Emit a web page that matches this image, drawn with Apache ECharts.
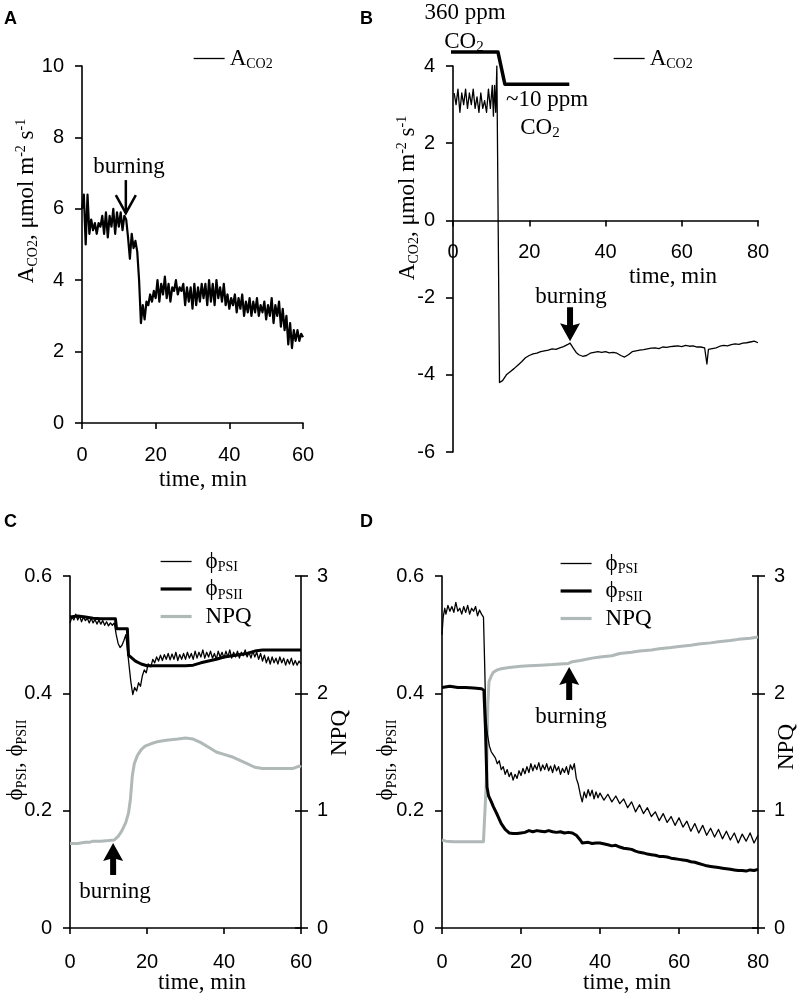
<!DOCTYPE html>
<html>
<head>
<meta charset="utf-8">
<script src="https://cdn.jsdelivr.net/npm/echarts@6/dist/echarts.min.js"></script>
<style>
html, body { margin: 0; padding: 0; background: #fff; }
#main { width: 800px; height: 998px; }
</style>
</head>
<body>
<div id="main"></div>
<script>
// panel A: A_CO2 trace, [time min, umol m-2 s-1]
var aTrace = [[0,6.0],[0.5,6.4],[1,5.0],[1.5,6.4],[2,5.3],[2.5,5.7],[3,5.4],[3.5,5.6],[4,5.3],[4.5,5.6],[5,5.5],[5.5,5.8],[6,5.3],[6.5,5.9],[7,5.2],[7.5,5.8],[8,5.5],[8.5,6.0],[9,5.3],[9.5,5.9],[10,5.5],[10.5,5.9],[11,5.4],[11.5,5.8],[12,5.7],[12.5,5.2],[13,4.6],[13.5,5.3],[14,4.9],[14.5,5.1],[15,4.8],[15.5,4.0],[16,2.8],[16.5,3.3],[17,2.9],[17.5,3.4],[18,3.3],[18.5,3.6],[19,3.4],[19.5,3.7],[20,3.5],[20.5,4.0],[21,3.4],[21.5,3.9],[22,3.6],[22.5,4.1],[23,3.5],[23.5,3.9],[24,3.4],[24.5,3.8],[25,3.7],[25.5,4.0],[26,3.6],[26.5,3.8],[27,3.7],[27.5,3.9],[28,3.3],[28.5,3.8],[29,3.4],[29.5,3.8],[30,3.2],[30.5,3.9],[31,3.3],[31.5,3.8],[32,3.4],[32.5,3.9],[33,3.5],[33.5,3.9],[34,3.3],[34.5,4.0],[35,3.4],[35.5,3.9],[36,3.3],[36.5,4.0],[37,3.5],[37.5,3.8],[38,3.4],[38.5,3.9],[39,3.3],[39.5,3.6],[40,3.2],[40.5,3.5],[41,3.3],[41.5,3.6],[42,3.1],[42.5,3.5],[43,3.2],[43.5,3.6],[44,3.0],[44.5,3.4],[45,3.1],[45.5,3.5],[46,3.0],[46.5,3.4],[47,3.1],[47.5,3.5],[48,3.0],[48.5,3.3],[49,3.1],[49.5,3.4],[50,2.9],[50.5,3.3],[51,3.0],[51.5,3.5],[52,2.8],[52.5,3.3],[53,3.0],[53.5,3.4],[54,2.7],[54.5,3.2],[55,2.6],[55.5,3.0],[56,2.2],[56.5,2.8],[57,2.1],[57.5,2.6],[58,2.3],[58.5,2.6],[59,2.3],[59.5,2.5],[60,2.4]];

// panel B: A_CO2 trace with the CO2 switch
var bTrace = [[0.3,3.3],[0.8,3.0],[1.3,3.4],[1.8,2.8],[2.3,3.3],[2.8,3.0],[3.3,3.4],[3.8,2.9],[4.3,3.3],[4.8,3.0],[5.3,3.4],[5.8,2.9],[6.3,3.2],[6.8,2.8],[7.3,3.3],[7.8,2.9],[8.3,3.1],[8.8,2.8],[9.3,3.4],[9.8,2.9],[10.3,3.5],[10.6,2.7],[10.9,3.5],[11.2,2.8],[11.5,4.0],[12.2,-4.2],[12.6,-4.25],[13,-4.15],[13.5,-4.1],[14,-4.0],[14.5,-3.98],[15,-3.92],[15.5,-3.9],[16,-3.84],[16.5,-3.82],[17,-3.75],[17.5,-3.72],[18,-3.66],[18.5,-3.68],[19,-3.56],[19.5,-3.58],[20,-3.5],[21,-3.46],[22,-3.44],[23,-3.4],[24,-3.38],[25,-3.36],[26,-3.33],[27,-3.34],[28,-3.3],[29,-3.27],[30,-3.22],[30.7,-3.18],[31.5,-3.3],[32.3,-3.42],[33,-3.48],[34,-3.52],[35,-3.5],[36,-3.44],[37,-3.42],[38,-3.4],[39,-3.42],[40,-3.4],[41,-3.43],[42,-3.42],[43,-3.44],[44,-3.5],[45,-3.54],[46,-3.48],[47,-3.4],[48,-3.38],[49,-3.36],[50,-3.35],[51,-3.33],[52,-3.31],[53,-3.3],[54,-3.32],[55,-3.28],[56,-3.29],[57,-3.27],[58,-3.26],[59,-3.25],[60,-3.27],[61,-3.24],[62,-3.26],[63,-3.25],[64,-3.28],[65,-3.28],[66,-3.3],[66.6,-3.72],[67,-3.34],[67.5,-3.35],[68,-3.32],[69,-3.3],[70,-3.26],[71,-3.24],[72,-3.25],[73,-3.22],[74,-3.2],[75,-3.21],[76,-3.18],[77,-3.17],[78,-3.15],[79,-3.13],[80,-3.17]];
// CO2 level marker line (360 ppm -> ~10 ppm), drawn in panel B units
var co2Step = [[-5.3,4.36],[11.8,4.36],[13.6,3.53],[30.5,3.53]];

// panel C
var cPsi1 = [[0,0.52],[0.5,0.53],[1,0.525],[1.5,0.535],[2,0.525],[2.5,0.532],[3,0.522],[3.5,0.53],[4,0.524],[4.5,0.528],[5,0.52],[5.5,0.528],[6,0.52],[6.5,0.526],[7,0.518],[7.5,0.525],[8,0.518],[8.5,0.524],[9,0.516],[9.5,0.522],[10,0.515],[10.5,0.52],[11,0.516],[11.5,0.52],[12,0.5],[12.5,0.485],[13,0.478],[13.5,0.482],[14,0.49],[14.5,0.5],[15,0.497],[15.3,0.45],[15.8,0.42],[16.3,0.398],[16.8,0.41],[17.3,0.404],[17.8,0.418],[18.3,0.412],[18.8,0.43],[19.3,0.44],[19.8,0.435],[20.3,0.45],[21,0.445],[21.5,0.458],[22,0.452],[22.5,0.462],[23,0.455],[23.5,0.465],[24,0.456],[24.5,0.466],[25,0.458],[25.5,0.468],[26,0.457],[26.5,0.467],[27,0.458],[27.5,0.47],[28,0.456],[28.5,0.466],[29,0.458],[29.5,0.468],[30,0.458],[30.5,0.47],[31,0.46],[31.5,0.468],[32,0.458],[32.5,0.472],[33,0.46],[33.5,0.47],[34,0.462],[34.5,0.474],[35,0.46],[35.5,0.47],[36,0.462],[36.5,0.472],[37,0.46],[37.5,0.468],[38,0.458],[38.5,0.472],[39,0.462],[39.5,0.47],[40,0.46],[40.5,0.472],[41,0.462],[41.5,0.474],[42,0.46],[42.5,0.47],[43,0.462],[43.5,0.472],[44,0.46],[44.5,0.47],[45,0.464],[45.5,0.474],[46,0.462],[46.5,0.47],[47,0.46],[47.5,0.472],[48,0.462],[48.5,0.47],[49,0.458],[49.5,0.468],[50,0.455],[50.5,0.465],[51,0.452],[51.5,0.462],[52,0.45],[52.5,0.462],[53,0.452],[53.5,0.46],[54,0.45],[54.5,0.462],[55,0.452],[55.5,0.46],[56,0.448],[56.5,0.458],[57,0.45],[57.5,0.46],[58,0.448],[58.5,0.456],[59,0.448],[59.5,0.455],[60,0.45]];
var cPsi2 = [[0,0.53],[2,0.532],[4,0.53],[6,0.528],[8,0.527],[10,0.527],[11.8,0.527],[12.1,0.51],[14.9,0.51],[15.2,0.465],[17,0.455],[18.5,0.45],[20,0.447],[25,0.447],[30,0.447],[32,0.448],[34,0.452],[36,0.455],[38,0.458],[40,0.462],[43,0.465],[46,0.468],[48,0.472],[50,0.474],[55,0.474],[60,0.474]];
var cNpq = [[0,0.72],[2,0.72],[4,0.73],[5,0.73],[6,0.74],[8,0.74],[10,0.745],[11.5,0.75],[12.5,0.78],[13.5,0.83],[14.5,0.9],[15.2,0.98],[15.7,1.1],[16.2,1.3],[16.7,1.4],[17.5,1.47],[18.5,1.52],[19.5,1.55],[21,1.57],[23,1.59],[25,1.6],[28,1.61],[30,1.62],[32,1.61],[34,1.58],[36,1.54],[38,1.5],[40,1.48],[42,1.46],[44,1.43],[46,1.4],[48,1.37],[50,1.36],[55,1.36],[58,1.36],[59.5,1.38],[60,1.37]];

// panel D
var dPsi1 = [[0,0.50],[0.3,0.53],[0.7,0.545],[1,0.535],[1.5,0.55],[2,0.54],[2.5,0.548],[3,0.538],[3.5,0.555],[4,0.54],[4.5,0.545],[5,0.535],[5.5,0.548],[6,0.538],[6.5,0.55],[7,0.535],[7.5,0.545],[8,0.54],[8.5,0.548],[9,0.532],[9.5,0.542],[10,0.535],[10.5,0.53],[10.8,0.45],[11.1,0.36],[11.5,0.33],[12,0.31],[12.5,0.3],[13,0.295],[13.5,0.29],[14,0.28],[14.5,0.285],[15,0.27],[15.5,0.275],[16,0.262],[16.5,0.27],[17,0.258],[17.5,0.265],[18,0.252],[18.5,0.262],[19,0.255],[19.5,0.268],[20,0.26],[20.5,0.272],[21,0.263],[21.5,0.275],[22,0.265],[22.5,0.28],[23,0.268],[23.5,0.278],[24,0.27],[24.5,0.282],[25,0.268],[25.5,0.278],[26,0.27],[26.5,0.28],[27,0.268],[27.5,0.276],[28,0.265],[28.5,0.278],[29,0.268],[29.5,0.275],[30,0.262],[30.5,0.272],[31,0.265],[31.5,0.275],[32,0.262],[32.5,0.278],[33,0.27],[33.5,0.28],[34,0.255],[34.5,0.245],[35,0.228],[35.5,0.215],[36,0.232],[36.5,0.222],[37,0.236],[37.5,0.225],[38,0.235],[38.5,0.22],[39,0.232],[39.5,0.222],[40,0.23],[41,0.218],[42,0.228],[43,0.215],[44,0.225],[45,0.212],[46,0.22],[47,0.205],[48,0.215],[49,0.198],[50,0.21],[51,0.195],[52,0.205],[53,0.19],[54,0.198],[55,0.183],[56,0.195],[57,0.18],[58,0.19],[59,0.175],[60,0.188],[61,0.172],[62,0.182],[63,0.165],[64,0.178],[65,0.162],[66,0.175],[67,0.158],[68,0.17],[69,0.155],[70,0.168],[71,0.152],[72,0.165],[73,0.15],[74,0.162],[75,0.145],[76,0.16],[77,0.148],[78,0.162],[79,0.145],[80,0.158]];
var dPsi2 = [[0,0.41],[2,0.412],[4,0.41],[6,0.41],[8,0.409],[10,0.408],[10.6,0.405],[11,0.34],[11.4,0.24],[11.8,0.225],[12.5,0.215],[13,0.207],[14,0.193],[15,0.178],[16,0.168],[17,0.162],[18,0.161],[19,0.161],[20,0.162],[21,0.163],[22,0.166],[23,0.164],[24,0.166],[25,0.165],[26,0.164],[27,0.166],[28,0.164],[29,0.163],[30,0.164],[31,0.162],[32,0.163],[33,0.162],[34,0.158],[35,0.15],[35.5,0.145],[37,0.146],[38,0.144],[39,0.145],[40,0.145],[42,0.142],[43,0.14],[44,0.141],[45,0.138],[46,0.136],[47,0.135],[48,0.134],[49,0.131],[50,0.129],[51,0.128],[52,0.126],[53,0.125],[54,0.124],[55,0.122],[56,0.122],[57,0.121],[58,0.119],[59,0.118],[60,0.117],[61,0.116],[62,0.115],[63,0.113],[64,0.112],[65,0.11],[66,0.108],[67,0.106],[68,0.105],[69,0.104],[70,0.103],[71,0.102],[72,0.101],[73,0.1],[74,0.099],[75,0.098],[76,0.098],[77,0.097],[78,0.099],[79,0.098],[80,0.1]];
var dNpq = [[0,0.75],[1,0.74],[3,0.735],[5,0.735],[7,0.735],[9,0.735],[10.5,0.735],[11,0.74],[11.3,1.3],[11.6,1.9],[11.9,2.1],[12.5,2.15],[13,2.18],[14,2.2],[15,2.21],[17,2.22],[20,2.23],[22,2.235],[25,2.24],[28,2.245],[30,2.25],[32,2.255],[33,2.27],[35,2.28],[38,2.3],[40,2.31],[43,2.32],[45,2.34],[48,2.35],[50,2.36],[53,2.37],[55,2.38],[58,2.39],[60,2.4],[63,2.41],[65,2.42],[68,2.43],[70,2.44],[73,2.45],[75,2.46],[78,2.47],[80,2.48]];

var SANS = 'Liberation Sans, Arial, sans-serif';
var SERIF = 'Liberation Serif, Times New Roman, serif';
var GREY = '#b0b8b8';

var rich = {
  b: { fontFamily: SERIF, fontSize: 23, lineHeight: 26, color: '#000' },
  s: { fontFamily: SERIF, fontSize: 14, lineHeight: 14, verticalAlign: 'bottom', color: '#000' },
  sub: { fontFamily: SERIF, fontSize: 15, lineHeight: 8, verticalAlign: 'bottom', color: '#000' },
  p: { fontFamily: SERIF, fontSize: 14, lineHeight: 14, verticalAlign: 'top', color: '#000' }
};

var legendText = {
  aA: '{b|A}{s|CO2}', aB: '{b|A}{s|CO2}',
  psiC: '{b|ϕ}{s|PSI}', psiiC: '{b|ϕ}{s|PSII}', npqC: '{b|NPQ}',
  psiD: '{b|ϕ}{s|PSI}', psiiD: '{b|ϕ}{s|PSII}', npqD: '{b|NPQ}'
};

function xAxisFor(grid, max, margin, offset) {
  return {
    type: 'value', gridIndex: grid, min: 0, max: max, interval: 20,
    position: 'bottom', offset: offset || 0,
    axisLine: { show: true, onZero: false, lineStyle: { color: '#000', width: 1.6 } },
    axisTick: { show: true, length: 6, lineStyle: { color: '#000', width: 1.6 } },
    axisLabel: { margin: margin, color: '#000', fontFamily: SANS, fontSize: 20 },
    splitLine: { show: false }
  };
}
function yAxisFor(grid, min, max, interval, pos, extra) {
  var ax = {
    type: 'value', gridIndex: grid, min: min, max: max, interval: interval, position: pos,
    axisLine: { show: true, onZero: false, lineStyle: { color: '#000', width: 1.6 } },
    axisTick: { show: true, length: 7, lineStyle: { color: '#000', width: 1.6 } },
    axisLabel: { margin: pos === 'left' ? 18 : 16, color: '#000', fontFamily: SANS, fontSize: 20 },
    splitLine: { show: false }
  };
  if (extra) {
    // inner half of the crossing ticks on the NPQ axes
    ax.axisLine.show = false;
    ax.axisLabel.show = false;
    ax.axisTick.inside = true;
    ax.axisTick.length = 6;
  }
  return ax;
}
function lineSeries(name, data, xi, yi, width, color, extra) {
  var s = {
    name: name, type: 'line', data: data, xAxisIndex: xi, yAxisIndex: yi,
    symbol: 'none', showSymbol: false, silent: true,
    lineStyle: { color: color, width: width, join: 'round' },
    itemStyle: { color: color }
  };
  if (extra) for (var k in extra) s[k] = extra[k];
  return s;
}
function legendFor(items, left, top, gap) {
  return {
    data: items.map(function (it) {
      return { name: it[0], lineStyle: { width: it[1], color: it[2] } };
    }),
    left: left, top: top, orient: 'vertical', padding: 0,
    itemWidth: 31, itemHeight: 14, itemGap: 3, selectedMode: false,
    itemStyle: { color: 'rgba(0,0,0,0)', borderColor: 'rgba(0,0,0,0)', borderWidth: 0, opacity: 0 },
    formatter: function (n) { return legendText[n]; },
    textStyle: { rich: rich, color: '#000', padding: [0, 0, 0, gap] }
  };
}

var chart = echarts.init(document.getElementById('main'));

chart.setOption({
  animation: false,
  backgroundColor: '#fff',
  grid: [
    { left: 82, top: 66, width: 221, height: 357 },
    { left: 453, top: 66, width: 305, height: 386 },
    { left: 70, top: 576, width: 231, height: 352 },
    { left: 442, top: 576, width: 316, height: 352 }
  ],
  xAxis: [
    xAxisFor(0, 60, 22),
    // panel B: the time axis sits at A_CO2 = 0 (0 is 6/10 of the way up)
    xAxisFor(1, 80, 22, -386 * 0.6),
    xAxisFor(2, 60, 24),
    xAxisFor(3, 80, 24)
  ],
  yAxis: [
    yAxisFor(0, 0, 10, 2, 'left'),
    yAxisFor(1, -6, 4, 2, 'left'),
    yAxisFor(2, 0, 0.6, 0.2, 'left'),
    yAxisFor(2, 0, 3, 1, 'right'),
    yAxisFor(2, 0, 3, 1, 'right', true),
    yAxisFor(3, 0, 0.6, 0.2, 'left'),
    yAxisFor(3, 0, 3, 1, 'right'),
    yAxisFor(3, 0, 3, 1, 'right', true)
  ],
  legend: [
    legendFor([['aA', 1.3, '#000']], 193, 47, 0),
    legendFor([['aB', 1.3, '#000']], 613, 47, 0),
    legendFor([['psiC', 1.3, '#000'], ['psiiC', 3.2, '#000'], ['npqC', 3.2, GREY]], 159, 550, 9),
    legendFor([['psiD', 1.3, '#000'], ['psiiD', 3.2, '#000'], ['npqD', 3.2, GREY]], 559, 552, 9)
  ],
  series: [
    lineSeries('aA', aTrace, 0, 0, 2.2, '#000'),
    lineSeries('aB', bTrace, 1, 1, 1.3, '#000'),
    lineSeries('co2', co2Step, 1, 1, 3.5, '#000', { clip: false }),
    lineSeries('npqC', cNpq, 2, 3, 3, GREY),
    lineSeries('psiC', cPsi1, 2, 2, 1.3, '#000'),
    lineSeries('psiiC', cPsi2, 2, 2, 3, '#000'),
    lineSeries('npqD', dNpq, 3, 6, 3, GREY),
    lineSeries('psiD', dPsi1, 3, 5, 1.3, '#000'),
    lineSeries('psiiD', dPsi2, 3, 5, 3, '#000')
  ]
});

// ---- annotations (arrows anchored to data points, labels) ----
function px(xi, yi, pt) {
  return chart.convertToPixel({ xAxisIndex: xi, yAxisIndex: yi }, pt);
}
function solidArrow(tip, dir, len) {
  // dir = 1 points down, -1 points up
  var x = tip[0], y = tip[1], w = 3, hw = 10, hl = 16;
  return {
    type: 'polygon', silent: true,
    shape: { points: [
      [x - w, y - dir * len], [x + w, y - dir * len], [x + w, y - dir * hl],
      [x + hw, y - dir * (hl + 2)], [x, y], [x - hw, y - dir * (hl + 2)], [x - w, y - dir * hl]
    ] },
    style: { fill: '#000' }
  };
}
function openArrow(tip, len) {
  var x = tip[0], y = tip[1];
  return [
    { type: 'polyline', silent: true, shape: { points: [[x, y - len], [x, y]] }, style: { stroke: '#000', lineWidth: 2.5 } },
    { type: 'polyline', silent: true, shape: { points: [[x - 10, y - 18], [x, y], [x + 10, y - 18]] }, style: { stroke: '#000', lineWidth: 2.5, fill: null } }
  ];
}
function txt(x, y, text, size, extra) {
  var st = { text: text, fontFamily: SERIF, fontSize: size || 23, fill: '#000', align: 'center', verticalAlign: 'middle', rich: rich };
  var el = { type: 'text', x: x, y: y, silent: true, style: st };
  if (extra) for (var k in extra) el[k] = extra[k];
  return el;
}
function letter(x, y, t) {
  return { type: 'text', x: x, y: y, silent: true, style: { text: t, fontFamily: SANS, fontWeight: 'bold', fontSize: 18, fill: '#000', align: 'left', verticalAlign: 'middle' } };
}
var UP = Math.PI / 2;
var yTitleA = '{b|A}{s|CO2}{b|, μmol m}{p|-2}{b| s}{p|-1}';
var yTitlePsi = '{b|ϕ}{s|PSI}{b|, ϕ}{s|PSII}';

var g = [];
g.push(letter(4, 19, 'A'), letter(360, 19, 'B'), letter(4, 522, 'C'), letter(360, 522, 'D'));
// A
g.push(txt(129, 167, 'burning'));
g = g.concat(openArrow(px(0, 0, [11.9, 5.88]), 33));
g.push(txt(27, 201, yTitleA, 23, { rotation: UP }));
g.push(txt(203, 480, 'time, min'));
// B
g.push(txt(465, 13, '360 ppm'));
g.push(txt(464, 42, '{b|CO}{sub|2}'));
g.push(txt(547, 100, '~10 ppm'));
g.push(txt(540, 128, '{b|CO}{sub|2}'));
g.push(txt(571, 297, 'burning'));
g.push(solidArrow(px(1, 1, [30.7, -3.13]), 1, 34));
g.push(txt(408, 198, yTitleA, 23, { rotation: UP }));
g.push(txt(673, 277, 'time, min'));
// C
g.push(txt(115, 892, 'burning'));
g.push(solidArrow(px(2, 2, [11.2, 0.145]), -1, 32));
g.push(txt(16, 760, yTitlePsi, 23, { rotation: UP }));
g.push(txt(340, 733, 'NPQ', 23, { rotation: UP }));
g.push(txt(202, 983, 'time, min'));
// D
g.push(txt(571, 717, 'burning'));
g.push(solidArrow(px(3, 5, [32.2, 0.445]), -1, 33));
g.push(txt(386, 760, yTitlePsi, 23, { rotation: UP }));
g.push(txt(787, 747, 'NPQ', 23, { rotation: UP }));
g.push(txt(627, 983, 'time, min'));

chart.setOption({ graphic: { elements: g } });
</script>
</body>
</html>
